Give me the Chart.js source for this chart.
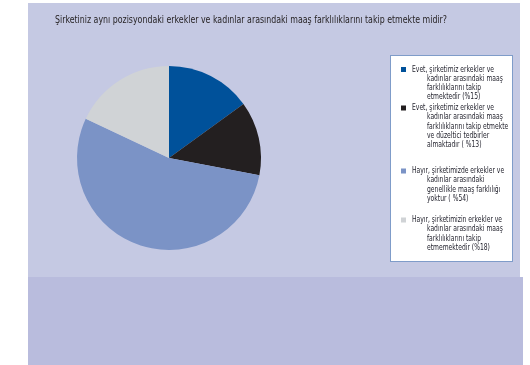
<!DOCTYPE html>
<html>
<head>
<meta charset="utf-8">
<script src="https://cdn.jsdelivr.net/npm/chart.js@4/dist/chart.umd.min.js"></script>
<style>
  html, body { margin: 0; padding: 0; background: #fff; }
  #wrap { width: 530px; height: 365px; position: relative; }
</style>
</head>
<body>
<div id="wrap"><canvas id="pie"></canvas></div>
<script>
// data
const title = "Şirketiniz aynı pozisyondaki erkekler ve kadınlar arasındaki maaş farklılıklarını takip etmekte midir?";
const categories = ["Evet, takip ediyor", "Evet, takip ediyor ve tedbir alıyor", "Hayır, fark yok", "Hayır, takip etmiyor"];
const shares = [15, 13, 54, 18];
const legendLines = [
  ["Evet, şirketimiz erkekler ve", "kadınlar arasındaki maaş", "farklılıklarını takip", "etmektedir (%15)"],
  ["Evet, şirketimiz erkekler ve", "kadınlar arasındaki maaş", "farklılıklarını takip etmekte", "ve düzeltici tedbirler", "almaktadır ( %13)"],
  ["Hayır, şirketimizde erkekler ve", "kadınlar arasındaki", "genellikle maaş farklılığı", "yoktur ( %54)"],
  ["Hayır, şirketimizin erkekler ve", "kadınlar arasındaki maaş", "farklılıklarını takip", "etmemektedir (%18)"]
];
const colors = ["#00519a", "#231f20", "#7b93c6", "#d0d3d6"];

const FONT = "'Liberation Sans Narrow', 'DejaVu Sans Condensed', 'Liberation Sans', sans-serif";

// panels, title and the boxed legend
const decor = {
  id: 'decor',
  beforeDraw(chart) {
    const c = chart.ctx;
    c.save();
    c.fillStyle = '#c5c9e3';
    c.fillRect(28, 3, 492, 274);
    c.fillStyle = '#b9bcdd';
    c.fillRect(28, 277, 495, 88);
    c.restore();
  },
  afterDraw(chart) {
    const c = chart.ctx;
    c.save();
    // title, squeezed to the reference width
    c.fillStyle = '#231f20';
    c.font = '10.5px ' + FONT;
    c.textBaseline = 'middle';
    const tw = c.measureText(title).width;
    c.translate(55, 20);
    c.scale(Math.min(1, 392 / tw), 1);
    c.fillText(title, 0, 0);
    c.restore();

    // legend box
    c.save();
    c.fillStyle = '#ffffff';
    c.fillRect(390, 55, 122, 206);
    c.strokeStyle = '#7f9cc9';
    c.lineWidth = 1;
    c.strokeRect(390.5, 55.5, 122, 206);
    const starts = [69.5, 108, 171, 220];
    const lh = 9.2;
    c.font = '8.5px ' + FONT;
    c.textBaseline = 'middle';
    legendLines.forEach((lines, i) => {
      const y0 = starts[i];
      c.fillStyle = chart.data.datasets[0].backgroundColor[i];
      c.fillRect(401, y0 - 2.5, 5, 5);
      c.fillStyle = '#1f1f2a';
      lines.forEach((t, j) => {
        const x = j === 0 ? 412 : 427;
        c.save();
        c.translate(x, y0 + j * lh);
        c.scale(0.79, 1);
        c.fillText(t, 0, 0);
        c.restore();
      });
    });
    c.restore();
  }
};

new Chart(document.getElementById('pie'), {
  type: 'pie',
  data: {
    labels: categories,
    datasets: [{
      data: shares,
      backgroundColor: colors,
      borderWidth: 0
    }]
  },
  options: {
    responsive: true,
    maintainAspectRatio: false,
    animation: false,
    layout: { padding: { left: 77, right: 269, top: 66, bottom: 115 } },
    plugins: {
      legend: { display: false },
      tooltip: { enabled: false }
    }
  },
  plugins: [decor]
});
</script>
</body>
</html>
